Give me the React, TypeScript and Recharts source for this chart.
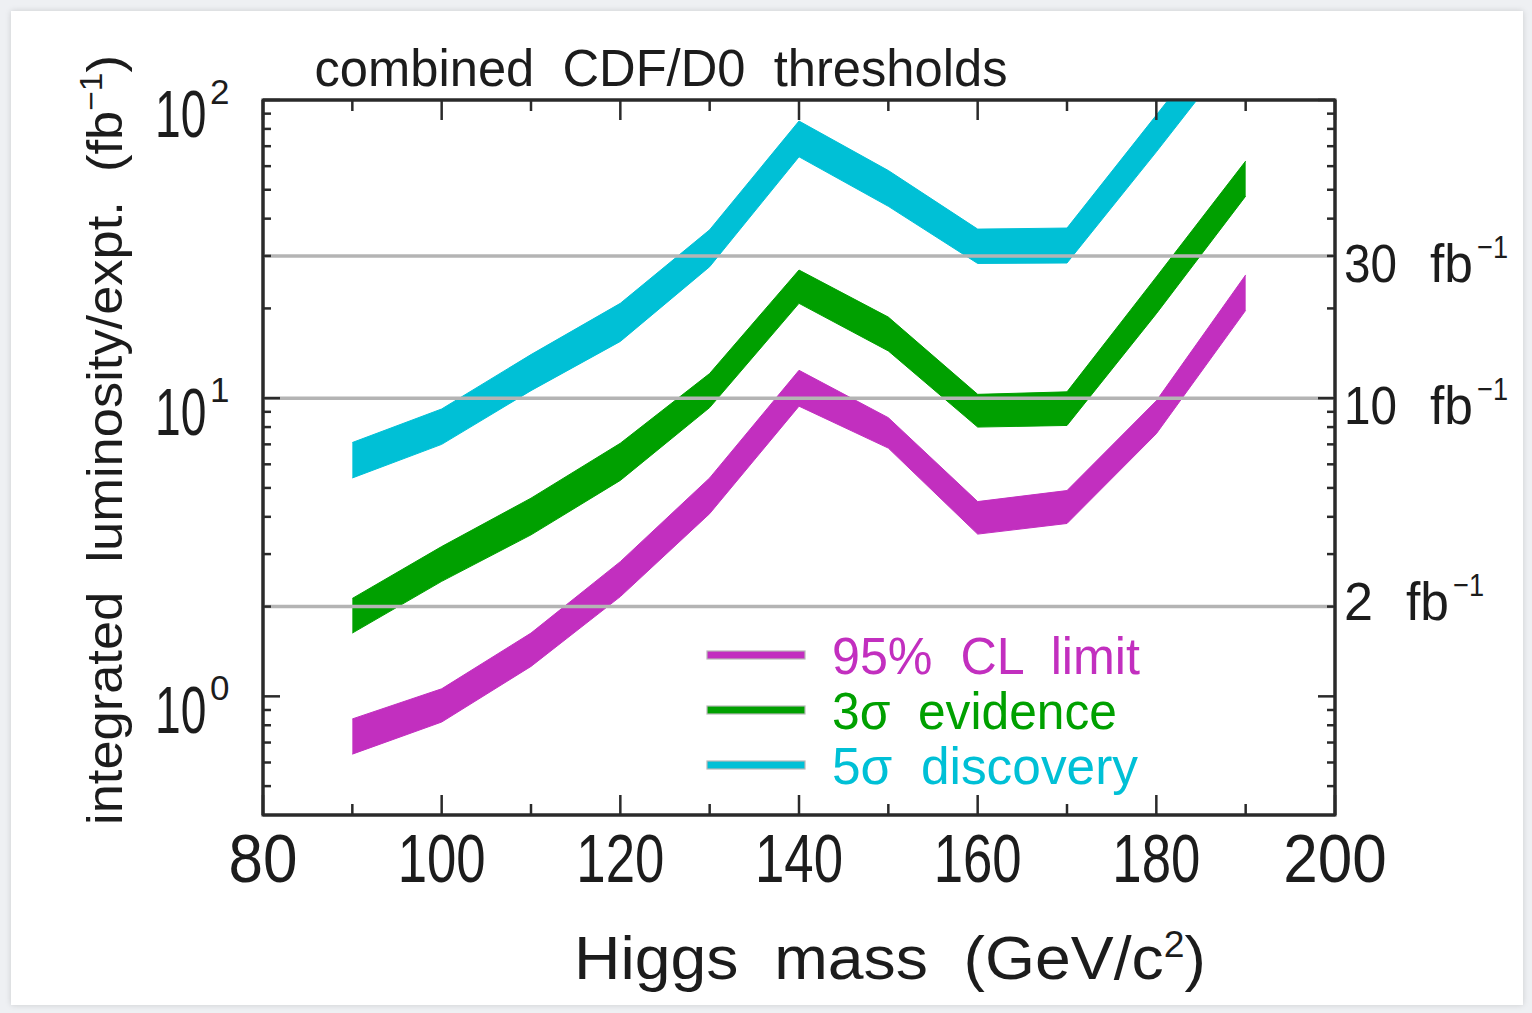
import React from 'react';
import { ComposedChart, Area, Line, XAxis, YAxis, ReferenceLine, Legend, Customized } from 'recharts';

// ---- data ----
const masses = [90, 100, 110, 120, 130, 140, 150, 160, 170, 180, 190];
const limitLow = [0.64, 0.82, 1.26, 2.16, 4.1, 9.4, 6.8, 3.5, 3.8, 7.6, 19.7];
const limitHigh = [0.84, 1.06, 1.63, 2.83, 5.4, 12.4, 8.6, 4.5, 4.9, 9.8, 25.9];
const evidenceLow = [1.63, 2.43, 3.48, 5.3, 9.3, 20.8, 14.4, 8.0, 8.1, 19.2, 47.6];
const evidenceHigh = [2.13, 3.18, 4.62, 7.06, 12.1, 26.9, 18.7, 10.3, 10.5, 25.5, 62.4];
const discoveryLow = [5.4, 7.0, 10.6, 15.5, 27.6, 64.5, 44, 28.3, 28.4, 67, 162];
const discoveryHigh = [7.1, 9.2, 14.0, 20.8, 36.7, 85, 58, 36.9, 37.2, 89, 214];

const xTicks = [80, 90, 100, 110, 120, 130, 140, 150, 160, 170, 180, 190, 200];
const xMajor = [80, 100, 120, 140, 160, 180, 200];
const yTicks = [0.5, 0.6, 0.7, 0.8, 0.9, 1, 2, 3, 4, 5, 6, 7, 8, 9, 10, 20, 30, 40, 50, 60, 70, 80, 90, 100];
const yMajor = [1, 10, 100];
const yMajorExp = ['0', '1', '2'];
const thresholds = [30, 10, 2];

const seriesKeys = ['limit', 'evidence', 'discovery'];
const seriesNames = ['95%  CL  limit', '3σ  evidence', '5σ  discovery'];
const seriesColors = ['#c22fbf', '#00a000', '#00c0d6'];

const data = masses.map((m, i) => ({
  mass: m,
  limit: [limitLow[i], limitHigh[i]],
  evidence: [evidenceLow[i], evidenceHigh[i]],
  discovery: [discoveryLow[i], discoveryHigh[i]],
}));

// ---- layout ----
const W = 1532;
const H = 1013;
const PL = 263;
const PR = 1335;
const PT = 100;
const PB = 815;
const FONT = '"Liberation Sans", Arial, sans-serif';
const INK = '#1c1c1c';
const FRAME = '#2a2a2a';

const digitWidth = (s: string) => s.split('').reduce((a, c) => a + (c === '1' ? 19 : 34.5), 0);

const XTickBottom = (props: any) => {
  const { x, payload } = props;
  const v = payload.value;
  const major = xMajor.includes(v);
  const label = String(v);
  return (
    <g>
      <line x1={x} x2={x} y1={PB} y2={PB - (major ? 20 : 11)} stroke={FRAME} strokeWidth={2.5} />
      {major && (
        <text x={x} y={882} textAnchor="middle" fontSize={68} fontFamily={FONT} fill={INK}
          textLength={digitWidth(label)} lengthAdjust="spacingAndGlyphs">{label}</text>
      )}
    </g>
  );
};

const XTickTop = (props: any) => {
  const { x, payload } = props;
  const major = xMajor.includes(payload.value);
  return <line x1={x} x2={x} y1={PT} y2={PT + (major ? 20 : 11)} stroke={FRAME} strokeWidth={2.5} />;
};

const YTickLeft = (props: any) => {
  const { y, payload } = props;
  const v = payload.value;
  const idx = yMajor.indexOf(v);
  const major = idx >= 0;
  return (
    <g>
      <line x1={PL} x2={PL + (major ? 17 : 8)} y1={y} y2={y} stroke={FRAME} strokeWidth={2.5} />
      {major && (
        <g>
          <text x={0} y={0} transform={`translate(155 ${y + 37}) scale(0.7 1)`} fontSize={66} fontFamily={FONT} fill={INK}>10</text>
          <text x={210} y={y + 4} fontSize={35} fontFamily={FONT} fill={INK}>{yMajorExp[idx]}</text>
        </g>
      )}
    </g>
  );
};

const YTickRight = (props: any) => {
  const { y, payload } = props;
  const major = yMajor.includes(payload.value);
  return <line x1={PR} x2={PR - (major ? 17 : 8)} y1={y} y2={y} stroke={FRAME} strokeWidth={2.5} />;
};

const ThresholdLabel = (props: any) => {
  const vb = props.viewBox || {};
  const y = vb.y;
  const v = props.value;
  const txt = String(v);
  const dy = v === 2 ? 13 : 26;
  const numW = txt.length === 1 ? 29 : 53;
  const x0 = PR + 9;
  const fbX = x0 + numW + 33;
  return (
    <g>
      <text x={x0} y={y + dy} fontSize={54} fontFamily={FONT} fill={INK}
        textLength={numW} lengthAdjust="spacingAndGlyphs">{txt}</text>
      <text x={fbX} y={y + dy} fontSize={54} fontFamily={FONT} fill={INK}
        textLength={43} lengthAdjust="spacingAndGlyphs">fb</text>
      <text x={fbX + 47} y={y + dy - 24} fontSize={32} fontFamily={FONT} fill={INK}
        textLength={31} lengthAdjust="spacingAndGlyphs">−1</text>
    </g>
  );
};

const renderLegend = (props: any) => {
  const payload = (props.payload || [])
    .filter((p: any) => seriesKeys.indexOf(p.dataKey) >= 0)
    .slice()
    .sort((a: any, b: any) => seriesKeys.indexOf(a.dataKey) - seriesKeys.indexOf(b.dataKey));
  const widths = [308, 285, 306];
  return (
    <svg width={470} height={170} style={{ display: 'block', overflow: 'visible' }}>
      {payload.map((p: any, i: number) => {
        const k = seriesKeys.indexOf(p.dataKey);
        const color = seriesColors[k];
        const name = seriesNames[k];
        const cy = 27 + i * 55;
        return (
          <g key={i}>
            <rect x={0} y={cy - 4} width={98} height={8} fill={color} stroke="#b8b8b8" strokeWidth={1.2} />
            <text x={125} y={cy + 19} fontSize={52} fontFamily={FONT} fill={color}
              style={{ whiteSpace: 'pre' }} textLength={widths[k]} lengthAdjust="spacingAndGlyphs">{name}</text>
          </g>
        );
      })}
    </svg>
  );
};

const Decorations = () => (
  <g>
    <rect x={PL} y={PT} width={PR - PL} height={PB - PT} fill="none" stroke={FRAME} strokeWidth={3} />
    <text x={661} y={86} textAnchor="middle" fontSize={52} fontFamily={FONT} fill={INK}
      style={{ whiteSpace: 'pre' }} textLength={693} lengthAdjust="spacingAndGlyphs">combined  CDF/D0  thresholds</text>
    <text x={890} y={979} textAnchor="middle" fontSize={62} fontFamily={FONT} fill={INK}
      style={{ whiteSpace: 'pre' }} textLength={632} lengthAdjust="spacingAndGlyphs">
      Higgs  mass  (GeV/c<tspan dy={-22} fontSize={36}>2</tspan><tspan dy={22}>)</tspan>
    </text>
    <text transform="translate(122,440) rotate(-90)" x={0} y={0} textAnchor="middle" fontSize={50} fontFamily={FONT} fill={INK}
      style={{ whiteSpace: 'pre' }} textLength={770} lengthAdjust="spacingAndGlyphs">
      integrated  luminosity/expt.  (fb<tspan dy={-20} fontSize={32}>−1</tspan><tspan dy={20}>)</tspan>
    </text>
  </g>
);

export default function App() {
  return (
    <div style={{ position: 'absolute', left: 0, top: 0, width: W, height: H, background: '#eef0f3', overflow: 'hidden' }}>
      <div style={{ position: 'absolute', left: 11, top: 11, width: W - 20, height: H - 19, background: '#ffffff', boxShadow: '0 0 6px rgba(0,0,0,0.15)' }} />
      <div style={{ position: 'absolute', left: 0, top: 0 }}>
        <ComposedChart width={W} height={H} data={data} margin={{ top: PT - 1, right: W - PR - 1, bottom: 0, left: 0 }}>
          <XAxis dataKey="mass" type="number" domain={[80, 200]} ticks={xTicks} interval={0} allowDataOverflow
            height={H - PB} tickLine={false} tick={<XTickBottom />} axisLine={{ stroke: FRAME, strokeWidth: 3 }} />
          <XAxis xAxisId="top" orientation="top" dataKey="mass" type="number" domain={[80, 200]} ticks={xTicks} interval={0} allowDataOverflow
            height={1} tickLine={false} tick={<XTickTop />} axisLine={{ stroke: FRAME, strokeWidth: 3 }} />
          <YAxis yAxisId="left" scale="log" type="number" domain={[0.4, 100]} allowDataOverflow ticks={yTicks} interval={0}
            width={PL} tickLine={false} tick={<YTickLeft />} axisLine={{ stroke: FRAME, strokeWidth: 3 }} />
          <YAxis yAxisId="right" orientation="right" scale="log" type="number" domain={[0.4, 100]} allowDataOverflow ticks={yTicks} interval={0}
            width={1} tickLine={false} tick={<YTickRight />} axisLine={{ stroke: FRAME, strokeWidth: 3 }} />
          {thresholds.map((t) => (
            <ReferenceLine key={t} yAxisId="left" y={t} stroke="#b4b4b4" strokeWidth={3.5}
              label={(p: any) => <ThresholdLabel {...p} value={t} />} />
          ))}
          {seriesKeys.map((k, i) => (
            <Area key={k} yAxisId="left" type="linear" dataKey={k} name={seriesNames[i]}
              stroke={seriesColors[i]} strokeWidth={1} fill={seriesColors[i]} fillOpacity={1}
              dot={false} activeDot={false} isAnimationActive={false} />
          ))}
          <Line xAxisId="top" yAxisId="right" dataKey={(d: any) => d.limit[0]} stroke="none" dot={false} activeDot={false}
            legendType="none" isAnimationActive={false} />
          <Legend layout="vertical" align="center" verticalAlign="middle" content={renderLegend}
            wrapperStyle={{ position: 'absolute', left: 707, top: 628, width: 470, height: 170 }} />
          <Customized component={Decorations} />
        </ComposedChart>
      </div>
    </div>
  );
}
